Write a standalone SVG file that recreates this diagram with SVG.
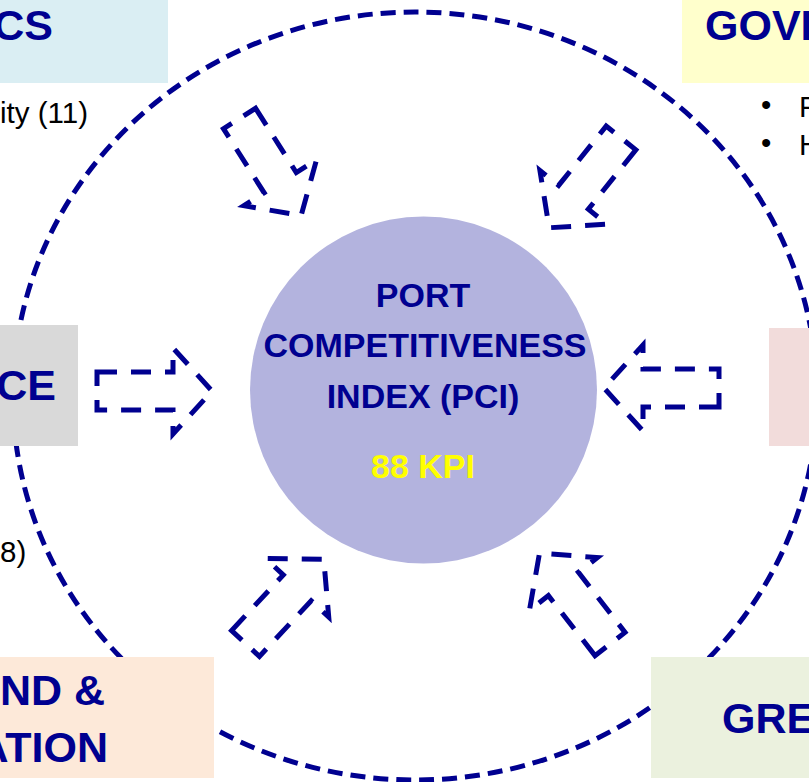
<svg xmlns="http://www.w3.org/2000/svg" xmlns:xlink="http://www.w3.org/1999/xlink" width="809" height="782" viewBox="0 0 809 782">
<style>
  .ring { fill: none; stroke: #000090; stroke-width: 5; stroke-dasharray: 15 8; }
  .arr { fill: none; stroke: #000090; stroke-width: 5; stroke-dasharray: 20 14; }
  .head { font-family: "Liberation Sans", Arial, sans-serif; font-weight: bold; font-size: 43px; fill: #000090; }
  .body { font-family: "Liberation Sans", Arial, sans-serif; font-size: 29.5px; fill: #000000; }
  .pci { font-family: "Liberation Sans", Arial, sans-serif; font-weight: bold; font-size: 34px; fill: #000090; text-anchor: middle; }
  .kpi { font-family: "Liberation Sans", Arial, sans-serif; font-weight: bold; font-size: 34px; fill: #ffff00; text-anchor: middle; }
</style>
<defs>
  <path id="arrow" d="M0,-19 L76,-19 L76,-43 L115,0 L76,43 L76,19 L0,19 Z"/>
</defs>
<rect width="809" height="782" fill="#ffffff"/>

<g id="outer-ring">
  <ellipse class="ring" cx="415" cy="396" rx="402" ry="384"/>
</g>

<g id="box-top-left">
  <rect x="0" y="0" width="168" height="83" fill="#daeef3"/>
  <text class="head" x="53" y="40" text-anchor="end">CS</text>
  <text class="body" x="0" y="123">ity (11)</text>
</g>

<g id="box-top-right">
  <rect x="682" y="0" width="127" height="83" fill="#ffffcc"/>
  <text class="head" x="705" y="40">GOVE</text>
  <text class="body" x="761" y="115">•</text>
  <text class="body" x="799" y="117">P</text>
  <text class="body" x="761" y="153">•</text>
  <text class="body" x="799" y="155">H</text>
</g>

<g id="box-left">
  <rect x="0" y="325" width="78" height="121" fill="#d9d9d9"/>
  <text class="head" x="56" y="400" text-anchor="end">CE</text>
  <text class="body" x="0" y="562">8)</text>
</g>

<g id="box-right">
  <rect x="769" y="328" width="40" height="118" fill="#f2dcdb"/>
</g>

<g id="box-bottom-left">
  <rect x="0" y="657" width="214" height="121" fill="#fde9d9"/>
  <text class="head" x="105" y="705" text-anchor="end">ND &amp;</text>
  <text class="head" x="108" y="762" text-anchor="end">ATION</text>
</g>

<g id="box-bottom-right">
  <rect x="651" y="657" width="158" height="121" fill="#ebf1de"/>
  <text class="head" x="722" y="733">GRE</text>
</g>

<g id="center-pci">
  <circle cx="423.5" cy="390" r="173.5" fill="#b3b3de"/>
  <text class="pci" x="423" y="307">PORT</text>
  <text class="pci" x="425" y="357">COMPETITIVENESS</text>
  <text class="pci" x="423" y="408">INDEX (PCI)</text>
  <text class="kpi" x="423" y="478">88 KPI</text>
</g>

<g id="connectors">
  <use class="arr" href="#arrow" xlink:href="#arrow" transform="translate(239.5,118.5) rotate(57.6)"/>
  <use class="arr" href="#arrow" xlink:href="#arrow" transform="translate(621,138) rotate(128.7)"/>
  <use class="arr" href="#arrow" xlink:href="#arrow" transform="translate(97,391)"/>
  <use class="arr" href="#arrow" xlink:href="#arrow" transform="translate(719,388) rotate(180)"/>
  <use class="arr" href="#arrow" xlink:href="#arrow" transform="translate(245.5,643.5) rotate(-47.1)"/>
  <use class="arr" href="#arrow" xlink:href="#arrow" transform="translate(610,644) rotate(-127.8)"/>
</g>
</svg>
